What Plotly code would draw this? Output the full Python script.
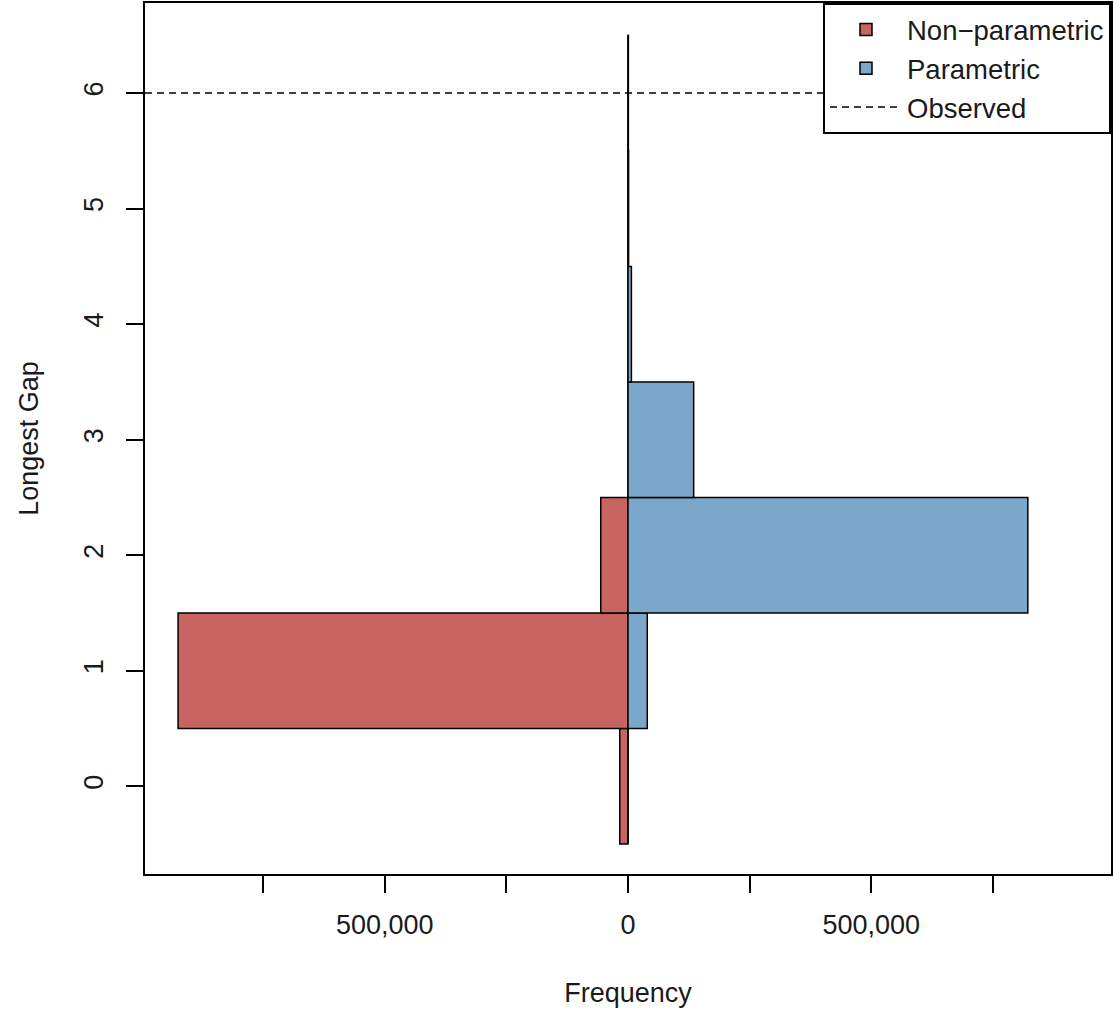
import plotly.graph_objects as go

# Longest-gap bins (centres)
gap_bins = [0, 1, 2, 3, 4, 5, 6]
# Frequencies
nonparametric_freq = [17000, 925000, 56000, 0, 0, 0, 0]
parametric_freq = [0, 39600, 822000, 135000, 7000, 1200, 800]
observed_gap = 6

x_tick_vals = [-750000, -500000, -250000, 0, 250000, 500000, 750000]
x_tick_text = ["", "500,000", "", "0", "", "500,000", ""]
y_tick_vals = [0, 1, 2, 3, 4, 5, 6]

RED = "#C86462"
BLUE = "#7BA7CA"
FONT = "Liberation Sans, Arial, sans-serif"
TXT = "#1a1a1a"

x_lim = 993000

fig = go.Figure()
fig.add_trace(go.Bar(
    y=gap_bins, x=[-v for v in nonparametric_freq], orientation="h",
    width=1, name="Non\u2212parametric",
    marker=dict(color=RED, line=dict(color="black", width=1.5)),
))
fig.add_trace(go.Bar(
    y=gap_bins, x=parametric_freq, orientation="h",
    width=1, name="Parametric",
    marker=dict(color=BLUE, line=dict(color="black", width=1.5)),
))
fig.add_trace(go.Scatter(
    x=[-x_lim, x_lim], y=[observed_gap, observed_gap], mode="lines",
    name="Observed", line=dict(color="black", width=1.5, dash="7px,5px"),
))

fig.update_layout(
    width=1114, height=1011,
    barmode="overlay",
    plot_bgcolor="white", paper_bgcolor="white",
    margin=dict(l=145, r=1, t=2, b=137),
    font=dict(family=FONT, size=27, color=TXT),
    showlegend=True,
    legend=dict(
        x=1, xanchor="right", y=1, yanchor="top",
        bgcolor="white", bordercolor="black", borderwidth=2,
        font=dict(family=FONT, size=27.5, color=TXT),
        traceorder="normal",
        itemwidth=72,
    ),
    xaxis=dict(
        range=[-x_lim, x_lim],
        tickvals=x_tick_vals, ticktext=x_tick_text,
        ticks="outside", ticklen=17, tickwidth=2, tickcolor="black",
        showline=True, mirror=True, linecolor="black", linewidth=2,
        showgrid=False, zeroline=False,
        ticklabelstandoff=9,
        title=dict(text="Frequency", standoff=44, font=dict(size=27)),
    ),
    yaxis=dict(
        range=[-0.76, 6.78],
        tickvals=y_tick_vals,
        tickangle=-90,
        ticks="outside", ticklen=17, tickwidth=2, tickcolor="black",
        showline=True, mirror=True, linecolor="black", linewidth=2,
        showgrid=False, zeroline=False,
        ticklabelstandoff=12,
        title=dict(text="Longest Gap", standoff=33, font=dict(size=27)),
    ),
)

fig.write_html(
    "out.html",
    config={"displayModeBar": False},
    post_script="document.body.style.margin='0px';",
)
